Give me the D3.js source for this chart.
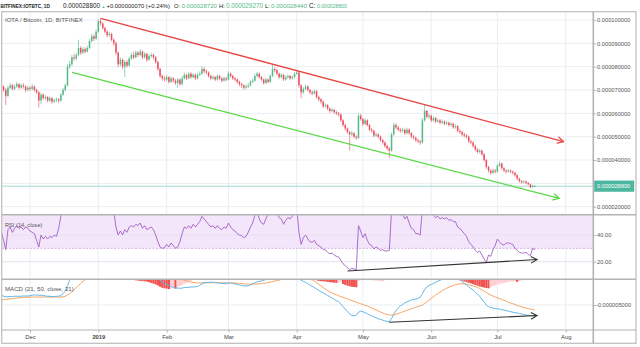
<!DOCTYPE html>
<html><head><meta charset="utf-8">
<script src="https://cdn.jsdelivr.net/npm/d3@7"></script>
<style>
html,body{margin:0;padding:0;background:#fff;}
svg{display:block;font-family:"Liberation Sans",Arial,sans-serif;}
</style></head><body>
<svg id="c" width="640" height="347"></svg>
<script>
// ---- DATA (prices in µBTC, i.e. ×1e-6 BTC) ----
const startDate = Date.UTC(2018, 10, 18);   // first daily candle
const firstOpen = 72.5;
const closes = [
71.5,70.0,67.5,71.0,72.0,70.5,71.5,72.5,71.0,72.0,
71.5,70.0,71.0,70.5,71.5,70.0,69.0,65.5,68.0,66.5,
67.0,65.5,66.5,65.0,65.5,66.0,65.5,68.0,70.0,72.0,
80.0,81.0,84.0,83.5,85.0,88.0,86.0,87.5,86.5,88.0,
91.0,93.0,92.0,95.0,99.5,98.5,96.5,95.0,93.5,94.0,
91.5,90.0,86.0,81.0,83.0,80.0,82.0,80.5,83.5,85.0,
84.0,86.0,85.0,86.5,84.0,85.5,83.0,84.5,85.0,84.0,
82.0,79.0,76.0,75.0,74.5,75.5,73.5,75.0,74.0,73.0,
74.5,72.5,75.0,76.5,75.0,77.0,75.5,76.5,75.0,76.5,
77.0,79.0,78.0,77.5,76.0,75.0,75.5,74.5,76.0,75.0,
74.0,75.0,74.5,77.0,76.0,75.0,74.5,73.5,72.5,72.0,
71.0,71.5,72.0,73.5,74.0,76.0,77.0,75.5,74.5,73.0,
74.5,73.5,76.0,79.0,78.5,77.0,75.5,76.5,74.5,75.5,
76.0,75.0,75.5,77.0,77.5,72.0,69.0,70.5,71.5,70.0,
69.0,68.5,69.5,67.0,66.0,65.0,63.0,63.5,62.0,61.0,
61.5,60.5,60.0,59.5,57.0,55.0,53.5,52.0,51.0,51.5,
50.0,49.5,59.0,57.5,55.5,57.0,55.0,53.0,52.5,50.5,
51.0,50.0,48.5,47.5,46.0,45.0,44.0,51.0,55.0,54.0,
53.0,52.5,53.0,51.5,53.0,51.5,50.0,49.5,48.5,48.0,
47.5,57.0,61.0,58.5,59.0,57.0,58.0,56.5,57.0,56.0,
56.5,55.5,56.0,55.0,55.5,54.0,54.5,52.5,52.0,51.0,
50.5,50.0,48.0,47.5,46.0,44.5,43.5,44.0,42.5,40.0,
37.0,35.5,34.5,35.5,35.0,37.5,38.5,36.5,35.5,35.0,
35.5,35.0,34.5,33.5,32.0,31.0,30.5,30.8,30.2,29.6,
28.3,28.73,28.8];
const highs = [
73.3,72.0,70.8,71.8,73.0,72.6,72.4,73.5,73.0,72.8,
72.9,72.0,71.8,71.6,72.5,72.0,70.6,69.5,68.8,68.5,
67.8,67.4,67.2,66.9,66.3,66.8,66.6,68.6,70.9,72.8,
81.0,82.5,85.0,85.5,86.0,91.5,88.8,88.4,88.3,89.0,
92.0,94.2,93.8,96.0,100.3,100.7,99.0,97.2,95.6,95.0,
94.5,92.2,90.8,86.5,84.0,83.6,82.8,82.9,84.3,86.0,
86.5,87.0,86.7,87.5,87.0,86.3,86.0,85.4,86.0,85.6,
84.6,82.5,79.6,76.8,76.0,76.3,76.0,75.8,75.6,74.8,
75.2,75.0,76.0,77.5,77.0,77.8,77.6,77.3,77.0,77.4,
78.0,80.2,79.8,78.7,78.0,76.6,76.3,76.0,76.8,76.5,
75.6,75.8,75.6,78.0,77.6,76.6,75.5,75.0,74.0,73.2,
72.6,72.3,72.8,74.2,75.0,77.0,77.8,77.5,76.0,75.0,
75.3,75.0,76.8,80.7,79.8,79.0,77.5,77.3,77.0,76.3,
76.8,76.5,76.3,77.8,78.6,78.0,72.5,71.3,72.4,72.0,
70.6,69.8,70.2,69.9,67.6,66.6,65.5,64.3,64.0,62.6,
62.3,62.0,61.2,60.6,60.0,57.5,55.6,54.0,52.6,52.4,
52.0,50.6,60.0,59.8,58.0,57.8,57.5,55.5,53.8,53.0,
51.8,51.5,50.5,49.0,48.0,46.6,45.6,51.8,56.0,55.8,
54.6,53.8,53.9,53.5,53.8,53.6,52.0,50.8,50.0,49.2,
48.6,58.0,63.6,61.5,60.0,59.5,58.8,58.5,57.8,57.6,
57.3,57.0,56.8,56.5,56.2,56.0,55.3,55.0,53.2,52.6,
51.8,51.2,50.5,48.8,48.0,46.6,45.2,44.8,44.5,43.0,
40.5,37.6,36.2,36.3,36.2,38.3,39.5,38.9,37.0,36.0,
36.2,35.9,35.5,35.0,34.0,32.5,31.4,31.4,31.2,30.6,
29.9,29.4,29.27];
const lows = [
70.8,69.2,63.5,67.0,70.3,69.8,69.9,71.0,70.2,70.5,
70.6,69.0,69.4,69.6,70.0,69.3,68.2,62.5,64.0,65.8,
65.6,64.6,64.9,64.2,64.4,64.8,64.3,65.0,67.5,69.4,
71.5,79.0,80.4,82.6,82.8,84.5,85.0,85.4,85.7,86.0,
87.5,90.3,91.0,91.5,94.5,97.6,95.8,94.2,92.6,92.8,
90.8,89.0,85.0,79.8,80.2,79.0,75.5,79.6,80.0,83.0,
83.2,83.5,84.2,84.5,83.2,83.5,82.0,82.5,83.8,83.0,
81.2,78.2,75.2,74.0,73.6,73.8,72.7,73.0,73.2,72.2,
71.0,71.8,72.0,74.5,74.3,74.6,74.8,75.0,74.2,74.5,
76.0,76.6,77.2,76.7,75.3,74.2,74.4,73.8,74.0,74.3,
73.3,73.5,73.8,74.0,75.3,74.3,73.7,72.8,71.6,70.8,
70.0,70.3,70.8,71.5,72.9,73.5,75.4,74.8,73.8,72.3,
72.5,72.8,73.0,75.5,77.6,76.3,74.8,75.0,73.8,74.0,
74.8,74.3,74.4,75.0,76.4,71.0,66.5,68.4,70.0,69.3,
68.2,67.7,68.0,66.3,65.2,64.2,62.3,62.5,61.3,60.2,
60.5,59.8,59.2,58.6,56.3,54.2,52.6,51.2,44.0,50.2,
49.2,48.6,49.0,56.8,54.6,55.0,54.3,52.3,51.6,49.8,
50.0,49.2,47.8,46.6,45.2,44.2,41.0,43.6,50.4,53.2,
52.2,51.7,51.8,50.8,51.0,50.8,49.3,48.8,47.8,47.2,
46.5,47.0,56.5,57.8,57.6,56.2,56.4,55.8,56.0,55.2,
55.4,54.8,55.0,54.3,54.5,53.3,53.4,51.8,51.2,50.2,
49.7,49.2,47.3,46.7,45.2,43.7,42.8,42.7,41.8,39.2,
36.2,34.6,33.7,34.0,34.2,34.6,37.0,35.8,34.8,34.3,
34.6,34.3,33.8,32.8,31.3,30.3,29.8,30.0,29.6,29.2,
28.0,28.1,28.44];
const rsi = [
42.5,36,29,44,46,42,45,47,45,46,
44,46,45,43,42,41,36,31,40,37,
39,37,39,38,40,39,45,54,62,66,
75,76,79,77,79,81,76,77,75,76,
79,81,79,82,84,80,74,70,66,66,
60,58,46,40,43,40,44,42,46,47,
46,48,47,49,45,47,44,45,46,44,
40,35,31,30,30.5,33,31,34,32,30,
31,35,41,46,45,47,45,48,46,48,
50,54,52,50,48,46,47,45,47,45,
44,46,45,49,46,44,43,41,40,39.5,
38,39,42,46,49,55,58,52,49,48,
52,56,60,66,64,58,53,52,48,51,
53,52,54,58,60,42,33,38,40,37,
35,34.5,36,33,32,31,29,29,27,26,
26.5,25,24,23.5,21,18.5,17,15.5,14,15,
14.5,14,47,43,38,41,36,33,32,29.5,
31,30,28.5,29,28,28,28.5,58,62,60,
56,55,56,52,54,49,45,44,41,41,
40,60,65,60,61,57,55,53,54,52,
53,52,53,51,51.5,50,50,46,45,43,
41,39,35,33,31,28.5,27,28,25,22,
19.5,25,24,29,32,37,35,33,32.5,34,
34,33.5,33,30,28.5,27,26.5,26.5,27,25.5,
24.5,30,29];
// MACD values in ×1e-6
const macd = [
-3.05,-3.3,-3.4,-3.4,-3.35,-3.35,-3.3,-3.3,-3.3,-3.3,
-3.25,-3.25,-3.25,-3.2,-3.1,-3.05,-3.05,-3.1,-3.1,-3.15,
-3.25,-3.3,-3.3,-3.35,-3.35,-3.3,-3.3,-3.1,-2.8,-2.3,
-1.2,-0.2,0.3,0.8,1.3,1.8,2.2,2.6,3.0,3.4,
3.8,4.3,4.7,5.2,5.8,6.2,6.4,6.5,6.5,6.4,
6.2,5.8,5.2,4.5,4.0,3.5,3.1,2.8,2.6,2.5,
2.4,2.3,2.2,2.1,1.9,1.8,1.6,1.5,1.3,1.1,
0.8,0.4,-0.2,-0.5,-0.8,-1.0,-1.2,-1.4,-1.6,-1.7,
-1.7,-1.75,-1.7,-1.6,-1.6,-1.55,-1.5,-1.5,-1.45,-1.4,
-1.2,-0.9,-0.7,-0.6,-0.6,-0.55,-0.6,-0.65,-0.7,-0.75,
-0.8,-0.85,-0.8,-0.7,-0.7,-0.8,-0.9,-1.0,-1.1,-1.2,
-1.3,-1.3,-1.25,-1.1,-0.9,-0.7,-0.5,-0.4,-0.3,-0.2,
-0.05,0.1,0.3,0.6,0.8,0.9,0.9,1.0,0.9,0.9,
0.9,0.9,1.0,1.1,1.2,0.8,-0.2,-0.4,-0.6,-0.85,
-1.1,-1.35,-1.6,-1.9,-2.15,-2.4,-2.65,-2.9,-3.15,-3.4,
-3.65,-3.9,-4.15,-4.4,-4.8,-5.3,-5.8,-6.3,-6.7,-7.05,
-7.1,-7.0,-6.4,-6.2,-6.3,-6.5,-6.7,-6.9,-7.1,-7.3,
-7.5,-7.7,-7.8,-7.95,-8.1,-8.2,-8.3,-7.6,-6.8,-6.1,
-5.6,-5.2,-4.9,-4.6,-4.4,-4.2,-4.0,-3.9,-3.85,-3.7,
-3.5,-2.8,-2.0,-1.5,-1.2,-1.0,-0.8,-0.6,-0.4,-0.2,
0.0,0.1,0.2,0.25,0.25,0.2,0.1,0.0,-0.15,-0.45,
-0.75,-1.1,-1.45,-1.8,-2.1,-2.5,-2.9,-3.3,-3.9,-4.4,
-5.0,-5.3,-5.5,-5.6,-5.7,-5.75,-5.8,-5.9,-6.0,-6.1,
-6.2,-6.3,-6.4,-6.5,-6.55,-6.65,-6.75,-6.85,-6.95,-7.0,
-7.05,-7.1,-7.1];
const signal = [
-4.0,-3.95,-3.9,-3.85,-3.8,-3.75,-3.7,-3.65,-3.6,-3.57,
-3.54,-3.51,-3.49,-3.47,-3.46,-3.45,-3.45,-3.45,-3.45,-3.45,
-3.45,-3.45,-3.45,-3.45,-3.45,-3.45,-3.45,-3.45,-3.4,-3.3,
-3.1,-2.8,-2.4,-2.0,-1.6,-1.2,-0.8,-0.45,-0.1,0.3,
0.65,1.0,1.3,1.6,1.85,2.05,2.2,2.35,2.45,2.5,
2.55,2.55,2.55,2.55,2.55,2.55,2.6,2.6,2.6,2.6,
2.55,2.5,2.45,2.4,2.3,2.2,2.1,2.0,1.9,1.8,
1.7,1.6,1.45,1.3,1.15,1.0,0.85,0.7,0.55,0.4,
0.25,0.1,0.0,-0.15,-0.3,-0.45,-0.55,-0.6,-0.65,-0.7,
-0.7,-0.7,-0.7,-0.7,-0.68,-0.66,-0.65,-0.65,-0.65,-0.66,
-0.67,-0.69,-0.7,-0.7,-0.7,-0.71,-0.73,-0.76,-0.8,-0.84,
-0.88,-0.92,-0.95,-0.96,-0.96,-0.94,-0.92,-0.88,-0.83,-0.78,
-0.72,-0.65,-0.55,-0.45,-0.35,-0.25,-0.15,-0.05,0.02,0.08,
0.12,0.16,0.2,0.25,0.3,0.3,0.25,0.2,0.12,0.05,
-0.02,-0.12,-0.4,-0.7,-1.0,-1.3,-1.6,-1.9,-2.2,-2.45,
-2.65,-2.85,-3.0,-3.2,-3.35,-3.5,-3.65,-3.8,-4.0,-4.15,
-4.3,-4.45,-4.6,-4.75,-4.9,-5.05,-5.2,-5.4,-5.6,-5.8,
-5.95,-6.15,-6.35,-6.55,-6.7,-6.85,-6.95,-6.95,-6.9,-6.8,
-6.65,-6.5,-6.35,-6.2,-6.05,-5.9,-5.75,-5.6,-5.45,-5.3,
-5.15,-5.0,-4.7,-4.4,-4.05,-3.7,-3.4,-3.1,-2.8,-2.5,
-2.2,-1.95,-1.75,-1.55,-1.35,-1.2,-1.05,-0.95,-0.9,-0.88,
-0.9,-0.95,-1.05,-1.2,-1.3,-1.45,-1.55,-1.8,-2.05,-2.3,
-2.55,-2.8,-3.05,-3.25,-3.45,-3.6,-3.75,-3.9,-4.1,-4.25,
-4.45,-4.6,-4.75,-4.9,-5.05,-5.2,-5.35,-5.5,-5.6,-5.7,
-5.8,-5.9,-5.95];
const hist = [
0.9,0.6,0.5,0.4,0.4,0.3,0.3,0.3,0.25,0.25,
0.2,0.2,0.3,0.35,0.4,0.4,0.3,0.2,0.2,0.15,
0.15,0.1,0.1,0.1,0.1,0.15,0.2,0.3,0.6,1.0,
1.6,2.2,2.6,2.9,3.1,3.2,3.2,3.2,3.1,3.1,
3.1,3.2,3.3,3.4,3.5,3.5,3.4,3.2,2.9,2.6,
2.2,1.8,1.4,1.0,0.7,0.5,0.3,0.2,0.1,0.05,
-0.1,-0.2,-0.25,-0.3,-0.35,-0.4,-0.45,-0.55,-0.7,-0.85,
-1.0,-1.2,-1.45,-1.65,-1.75,-1.8,-1.9,-1.6,-1.5,-1.8,
-1.5,-1.3,-1.1,-0.9,-0.7,-0.5,-0.3,-0.1,0.1,0.2,
0.3,0.4,0.5,0.5,0.4,0.35,0.3,0.25,0.2,0.15,
0.1,0.1,0.1,0.05,0.1,0.05,0.05,0.05,0.05,0.05,
0.05,0.05,0.05,0.05,0.1,0.2,0.3,0.4,0.5,0.6,
0.7,0.8,0.9,1.0,1.0,1.0,0.9,0.9,0.8,0.8,
0.7,0.7,0.8,0.8,0.9,0.6,0.4,0.2,0.1,0.05,
0.05,0.05,-0.1,-0.2,-0.3,-0.35,-0.4,-0.45,-0.5,-0.55,
-0.6,-0.65,-0.7,-0.6,-0.5,-0.9,-1.1,-1.25,-1.35,-1.45,
-1.5,-1.55,-0.3,-0.2,-0.15,-0.12,-0.13,-0.14,-0.15,-0.16,
-0.17,-0.18,-0.19,-0.2,-0.18,-0.15,-0.1,0.5,1.0,1.5,
1.8,1.9,2.0,2.0,2.0,1.9,1.8,1.7,1.6,1.5,
1.5,2.0,2.5,2.8,2.8,2.7,2.6,2.4,2.2,2.0,
1.8,1.6,1.4,1.2,0.9,0.6,0.4,0.2,-0.1,-0.25,
-0.4,-0.55,-0.7,-0.8,-0.95,-1.1,-1.25,-1.4,-1.5,-1.6,
-1.7,-1.75,-1.5,-1.3,-1.2,-1.0,-0.9,-0.8,-0.7,-0.6,
-0.5,-0.45,-0.4,-0.35,-0.5,-0.3,-0.2,-0.15,-0.12,-0.1,
-0.08,-0.06,-0.05];
// drawn trend lines / divergence arrows [date, value]
const resistance = [["2019-01-02", 100.7], ["2019-07-31", 47.9]];
const support    = [["2018-12-20", 77.6], ["2019-07-29", 23.6]];
const rsiArrow   = [["2019-04-24", 13.0], ["2019-07-19", 21.7]];
const macdArrow  = [["2019-05-13", -8.35], ["2019-07-19", -7.05]];
// axis ticks (0.000030000 is hidden behind the last-price tag)
const priceGrid = [100, 90, 80, 70, 60, 50, 40, 30, 20];
const priceTicks = [100, 90, 80, 70, 60, 50, 40, 20];
const rsiTicks = [40, 20];
const macdTicks = [-5];
const monthTicks = ["2018-12-01","2019-01-01","2019-02-01","2019-03-01","2019-04-01","2019-05-01","2019-06-01","2019-07-01","2019-08-01"];
const monthLabels = ["Dec","2019","Feb","Mar","Apr","May","Jun","Jul","Aug"];
const header = [
  ["BITFINEX:IOTBTC, 1D", 0.5, 50, "#222", "bold"],
  ["0.000028800", 63, 100, "#222", "normal"],
  ["\u25B2", 101.5, 105.5, "#53b987", "normal"],
  ["+0.000000070 (+0.24%)", 106.5, 170, "#222", "normal"],
  ["O:", 174, 180, "#222", "normal"], ["0.000028720", 181.5, 217, "#53b987", "normal"],
  ["H:", 219, 225, "#222", "normal"], ["0.000029270", 226, 263, "#53b987", "normal"],
  ["L:", 265, 270, "#222", "normal"], ["0.000028440", 271, 307, "#53b987", "normal"],
  ["C:", 309, 315.5, "#222", "normal"], ["0.000028800", 317, 347, "#53b987", "normal"]
];

// ---- CHART ----
const svg = d3.select("#c");
const U = 1e-6;
const P = {x0: 2, x1: 593.3, y0: 12, y1: 214.8};
const R = {y0: 214.8, y1: 279.3};
const M = {y0: 279.3, y1: 330};
const parse = s => { const [y,m,d] = s.split("-").map(Number); return new Date(Date.UTC(y, m-1, d)); };
const dates = closes.map((_, i) => new Date(startDate + i * 864e5));
const opens = closes.map((c, i) => i === 0 ? firstOpen : closes[i-1]);

const x = d3.scaleUtc().domain([parse("2018-12-01"), parse("2019-08-01")]).range([30, 565.7]);
const yP = d3.scaleLinear().domain([20, 100]).range([206.7, 20]);
const yR = d3.scaleLinear().domain([20, 40]).range([261.7, 235]);
const yM = d3.scaleLinear().domain([-5, 0]).range([305, 279.3]);

const defs = svg.append("defs");
function clip(id, y0, y1) {
  defs.append("clipPath").attr("id", id).append("rect")
    .attr("x", P.x0).attr("y", y0).attr("width", P.x1 - P.x0).attr("height", y1 - y0);
}
clip("cp", P.y0, P.y1); clip("cr", R.y0, R.y1); clip("cm", M.y0, M.y1);

const gridC = "#e9eef4";
svg.append("g").selectAll("line").data(monthTicks).join("line")
  .attr("x1", d => x(parse(d))).attr("x2", d => x(parse(d)))
  .attr("y1", P.y0).attr("y2", M.y1).attr("stroke", gridC).attr("stroke-width", 1);
svg.append("g").selectAll("line").data(priceGrid).join("line")
  .attr("x1", P.x0).attr("x2", P.x1).attr("y1", d => yP(d)).attr("y2", d => yP(d))
  .attr("stroke", gridC);

// RSI pane
const gr = svg.append("g").attr("clip-path", "url(#cr)");
gr.append("rect").attr("x", P.x0).attr("width", P.x1 - P.x0)
  .attr("y", yR(70)).attr("height", yR(30) - yR(70)).attr("fill", "#f3e6fb");
gr.selectAll("line.g").data(rsiTicks).join("line").attr("class", "g")
  .attr("x1", P.x0).attr("x2", P.x1).attr("y1", d => yR(d)).attr("y2", d => yR(d))
  .attr("stroke", "#e6e0ee");
gr.append("line").attr("x1", P.x0).attr("x2", P.x1).attr("y1", yR(30)).attr("y2", yR(30))
  .attr("stroke", "#c9a6dc").attr("stroke-dasharray", "2,1.5").attr("stroke-width", 0.8);
gr.append("path").datum(rsi)
  .attr("d", d3.line().x((d, i) => x(dates[i])).y(d => yR(d)))
  .attr("fill", "none").attr("stroke", "#a35fc4").attr("stroke-width", 0.9);

// MACD pane
const gm = svg.append("g").attr("clip-path", "url(#cm)");
gm.selectAll("line.g").data(macdTicks).join("line").attr("class", "g")
  .attr("x1", P.x0).attr("x2", P.x1).attr("y1", d => yM(d)).attr("y2", d => yM(d)).attr("stroke", gridC);
gm.selectAll("rect").data(hist).join("rect")
  .attr("x", (d, i) => x(dates[i]) - 1.1).attr("width", 2.2)
  .attr("y", d => Math.min(yM(d), yM(0))).attr("height", d => Math.abs(yM(d) - yM(0)))
  .attr("fill", (d, i) => {
    const p = i > 0 ? hist[i-1] : d;
    if (d >= 0) return d >= p ? "#26a69a" : "#b2dfdb";
    return d < p ? "#ef5350" : "#ffcdd2";
  });
gm.append("path").datum(signal)
  .attr("d", d3.line().x((d, i) => x(dates[i])).y(d => yM(d)))
  .attr("fill", "none").attr("stroke", "#f5a462").attr("stroke-width", 1);
gm.append("path").datum(macd)
  .attr("d", d3.line().x((d, i) => x(dates[i])).y(d => yM(d)))
  .attr("fill", "none").attr("stroke", "#63b6e8").attr("stroke-width", 1);

// price pane
const gp = svg.append("g").attr("clip-path", "url(#cp)");
const lastC = closes[closes.length - 1];
gp.append("line").attr("x1", P.x0).attr("x2", P.x1).attr("y1", yP(lastC)).attr("y2", yP(lastC))
  .attr("stroke", "#86d2c4").attr("stroke-width", 0.8);
const up = "#53b987", dn = "#eb4d5c";
const cg = gp.append("g");
cg.selectAll("line").data(closes).join("line")
  .attr("x1", (d, i) => x(dates[i])).attr("x2", (d, i) => x(dates[i]))
  .attr("y1", (d, i) => yP(highs[i])).attr("y2", (d, i) => yP(lows[i]))
  .attr("stroke", (d, i) => d >= opens[i] ? up : dn).attr("stroke-width", 0.6);
cg.selectAll("rect").data(closes).join("rect")
  .attr("x", (d, i) => x(dates[i]) - 0.75).attr("width", 1.5)
  .attr("y", (d, i) => yP(Math.max(d, opens[i])))
  .attr("height", (d, i) => Math.max(0.7, Math.abs(yP(d) - yP(opens[i]))))
  .attr("fill", (d, i) => d >= opens[i] ? up : dn);

function arrowLine(g, pts, sx, sy, color, w) {
  const x1 = sx(parse(pts[0][0])), y1 = sy(pts[0][1]);
  const x2 = sx(parse(pts[1][0])), y2 = sy(pts[1][1]);
  g.append("line").attr("x1", x1).attr("y1", y1).attr("x2", x2).attr("y2", y2)
    .attr("stroke", color).attr("stroke-width", w);
  const a = Math.atan2(y2 - y1, x2 - x1), L = 6.5, s = 0.5;
  [1, -1].forEach(k => {
    g.append("line").attr("x1", x2).attr("y1", y2)
      .attr("x2", x2 - L * Math.cos(a + k * s)).attr("y2", y2 - L * Math.sin(a + k * s))
      .attr("stroke", color).attr("stroke-width", w).attr("stroke-linecap", "round");
  });
}
arrowLine(svg, resistance, x, yP, "#e8433f", 1.3);
arrowLine(svg, support, x, yP, "#58d843", 1.3);
arrowLine(svg, rsiArrow, x, yR, "#333", 1.1);
arrowLine(svg, macdArrow, x, yM, "#333", 1.1);

// frames
const fr = svg.append("g").attr("stroke", "#bdbdbd").attr("fill", "none");
fr.append("rect").attr("x", 1.7).attr("y", 11.7).attr("width", 636 - 1.7).attr("height", 343.3 - 11.7).attr("stroke-width", 1.2);
fr.append("line").attr("x1", P.x1).attr("x2", P.x1).attr("y1", 11.7).attr("y2", 343.3).attr("stroke-width", 1.6).attr("stroke", "#b3b3b3");
[R.y0, M.y0].forEach(yy => fr.append("line").attr("x1", 1.7).attr("x2", 636).attr("y1", yy).attr("y2", yy).attr("stroke-width", 1.6).attr("stroke", "#b3b3b3"));
fr.append("line").attr("x1", 1.7).attr("x2", 636).attr("y1", M.y1).attr("y2", M.y1).attr("stroke-width", 1.2).attr("stroke", "#b3b3b3");

// axes
const fmt9 = d => (d * U).toFixed(9);
function styleAxis(g) {
  g.select(".domain").remove();
  g.selectAll(".tick line").attr("stroke", "#999").attr("stroke-width", 0.7);
  g.selectAll("text").attr("font-size", 5.7).attr("fill", "#555").attr("font-family", "Liberation Sans, Arial, sans-serif");
}
svg.append("g").attr("transform", `translate(${P.x1},0)`)
  .call(d3.axisRight(yP).tickValues(priceTicks).tickFormat(fmt9).tickSize(3).tickPadding(0.8)).call(styleAxis);
svg.append("g").attr("transform", `translate(${P.x1},0)`)
  .call(d3.axisRight(yR).tickValues(rsiTicks).tickFormat(d3.format(".2f")).tickSize(3).tickPadding(0.8)).call(styleAxis);
svg.append("g").attr("transform", `translate(${P.x1},0)`)
  .call(d3.axisRight(yM).tickValues(macdTicks).tickFormat(fmt9).tickSize(2.5).tickPadding(0.2)).call(styleAxis);
const xa = svg.append("g").attr("transform", `translate(0,${M.y1})`)
  .call(d3.axisBottom(x).tickValues(monthTicks.map(parse)).tickFormat((d, i) => monthLabels[i]).tickSize(2.5).tickPadding(2.8))
  .call(styleAxis);
xa.selectAll("text").attr("font-size", 5.8).attr("fill", "#444")
  .attr("font-weight", (d, i) => monthLabels[i] === "2019" ? "bold" : "normal");

// price tag
const tg = svg.append("g");
tg.append("rect").attr("x", 594.2).attr("y", yP(lastC) - 5.6).attr("width", 40).attr("height", 11.2).attr("fill", "#4db6a0");
tg.append("text").attr("x", 597).attr("y", yP(lastC)).attr("dy", "0.35em")
  .attr("font-size", 5.7).attr("fill", "#fff").text(fmt9(lastC));

// fit text: font size so natural width matches the target width
function fitText(sel, maxFs) {
  sel.each(function(d) {
    const t = d3.select(this).attr("font-size", 10);
    const w = this.getComputedTextLength();
    const target = d.w;
    t.attr("font-size", Math.min(maxFs, 10 * target / w));
  });
}
const hdr = svg.append("g").selectAll("text")
  .data(header.map(h => ({t: h[0], x: h[1], w: h[2] - h[1], c: h[3], fw: h[4]}))).join("text")
  .attr("x", d => d.x).attr("y", 8)
  .attr("fill", d => d.c).attr("font-weight", d => d.fw).text(d => d.t);
fitText(hdr, 6.8);
const titles = [{t: "IOTA / Bitcoin, 1D, BITFINEX", x: 5, y: 21.7, w: 78},
                {t: "RSI (14, close)", x: 5, y: 226.6, w: 37.5},
                {t: "MACD (21, 50, close, 21)", x: 5, y: 290.8, w: 69}];
const tt = svg.append("g").selectAll("text").data(titles).join("text")
  .attr("x", d => d.x).attr("y", d => d.y).attr("fill", "#555").text(d => d.t);
fitText(tt, 7);
</script>
</body></html>
